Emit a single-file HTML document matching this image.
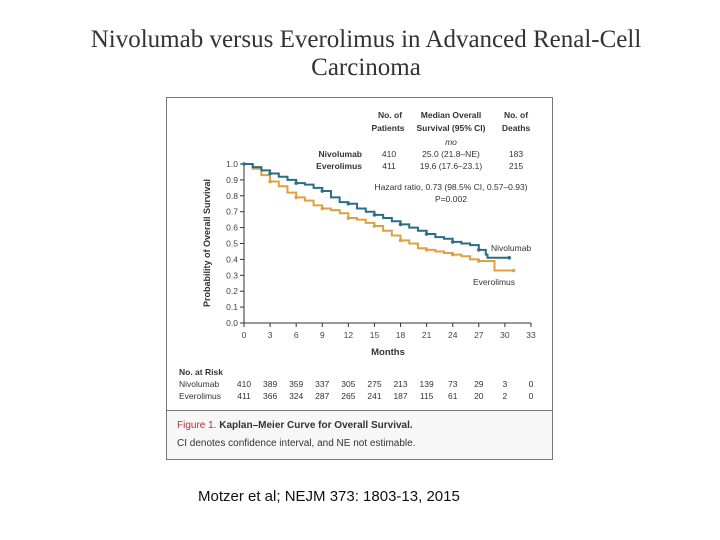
<!DOCTYPE html>
<html><head><meta charset="utf-8"><style>
body{margin:0;width:720px;height:540px;background:#fff;position:relative;overflow:hidden;font-family:"Liberation Sans",sans-serif}
.t{position:absolute;white-space:nowrap}
</style></head><body>
<div class="t" style="left:0;width:732px;top:26px;text-align:center;font-family:'Liberation Serif',serif;font-size:25px;line-height:28px;color:#333">Nivolumab versus Everolimus in Advanced Renal-Cell<br>Carcinoma</div>
<svg width="720" height="540" style="position:absolute;left:0;top:0">
<rect x="166.5" y="97.5" width="386" height="362" fill="#fff" stroke="#777"/>
<rect x="167" y="410" width="385" height="49" fill="#f7f7f7"/>
<line x1="167" y1="410.5" x2="552" y2="410.5" stroke="#777"/>
<g id="axes" font-size="8.5" fill="#444"></g>
<g id="curves"></g>
<g font-size="8.5" fill="#333">
<text x="390" y="118" text-anchor="middle" font-weight="bold">No. of</text>
<text x="388" y="131" text-anchor="middle" font-weight="bold">Patients</text>
<text x="451" y="118" text-anchor="middle" font-weight="bold">Median Overall</text>
<text x="451" y="131" text-anchor="middle" font-weight="bold">Survival (95% CI)</text>
<text x="451" y="145" text-anchor="middle" font-style="italic">mo</text>
<text x="516" y="118" text-anchor="middle" font-weight="bold">No. of</text>
<text x="516" y="131" text-anchor="middle" font-weight="bold">Deaths</text>
<text x="362" y="157" text-anchor="end" font-weight="bold">Nivolumab</text>
<text x="362" y="169" text-anchor="end" font-weight="bold">Everolimus</text>
<text x="389" y="157" text-anchor="middle">410</text><text x="389" y="169" text-anchor="middle">411</text>
<text x="451" y="157" text-anchor="middle">25.0 (21.8–NE)</text><text x="451" y="169" text-anchor="middle">19.6 (17.6–23.1)</text>
<text x="516" y="157" text-anchor="middle">183</text><text x="516" y="169" text-anchor="middle">215</text>
<text x="451" y="190" text-anchor="middle">Hazard ratio, 0.73 (98.5% CI, 0.57–0.93)</text>
<text x="451" y="202" text-anchor="middle">P=0.002</text>
<text x="491" y="251">Nivolumab</text>
<text x="473" y="285">Everolimus</text>
<text x="388" y="355" text-anchor="middle" font-weight="bold" font-size="9.5">Months</text>
<text x="210" y="243" text-anchor="middle" font-weight="bold" font-size="9" transform="rotate(-90 210 243)">Probability of Overall Survival</text>
<text x="179" y="375" font-weight="bold">No. at Risk</text>
<text x="179" y="387">Nivolumab</text><text x="179" y="399">Everolimus</text>
</g>
<g id="risk" font-size="8.5" fill="#333"></g>
<text x="177" y="428" font-size="10" fill="#b03040">Figure 1. <tspan fill="#333" font-weight="bold">Kaplan–Meier Curve for Overall Survival.</tspan></text>
<text x="177" y="446" font-size="10" fill="#333">CI denotes confidence interval, and NE not estimable.</text>
</svg>
<div class="t" style="left:198px;top:488px;font-size:15px;color:#111">Motzer et al; NEJM 373: 1803-13, 2015</div>
<script>
const xTicks=[0,3,6,9,12,15,18,21,24,27,30,33];
const yTicks=[0,0.1,0.2,0.3,0.4,0.5,0.6,0.7,0.8,0.9,1.0];
const nivoMonths=[0,1,2,3,4,5,6,7,8,9,10,11,12,13,14,15,16,17,18,19,20,21,22,23,24,25,26,27,27.8,28,30.5];
const nivoSurv=[1,0.98,0.96,0.94,0.92,0.9,0.88,0.87,0.85,0.83,0.79,0.76,0.75,0.72,0.7,0.68,0.66,0.64,0.62,0.6,0.58,0.56,0.54,0.53,0.51,0.5,0.49,0.46,0.43,0.41,0.41];
const everoMonths=[0,1,2,3,4,5,6,7,8,9,10,11,12,13,14,15,16,17,18,19,20,21,22,23,24,25,26,27,28.5,28.8,31];
const everoSurv=[1,0.97,0.93,0.89,0.86,0.82,0.79,0.77,0.74,0.72,0.71,0.69,0.66,0.65,0.63,0.61,0.58,0.55,0.52,0.5,0.47,0.46,0.45,0.44,0.43,0.42,0.4,0.39,0.39,0.33,0.33];
const riskNivo=[410,389,359,337,305,275,213,139,73,29,3,0];
const riskEvero=[411,366,324,287,265,241,187,115,61,20,2,0];
const NS="http://www.w3.org/2000/svg";
const X=m=>244+m*(287/33), Y=p=>323-p*159;
function mk(t,a,p){const e=document.createElementNS(NS,t);for(const k in a)e.setAttribute(k,a[k]);p.appendChild(e);return e;}
const ax=document.getElementById('axes');
let e=mk('line',{x1:244,y1:Y(0),x2:531,y2:Y(0),stroke:'#333'},ax);


e=mk('line',{x1:244,y1:Y(0),x2:244,y2:Y(1),stroke:'#333'},ax);


xTicks.forEach(v=>{mk('line',{x1:X(v),x2:X(v),y1:Y(0),y2:Y(0)+4,stroke:'#333'},ax);const t=mk('text',{x:X(v),y:Y(0)+15,'text-anchor':'middle'},ax);t.textContent=v;

});
yTicks.forEach(v=>{mk('line',{x1:240,x2:244,y1:Y(v),y2:Y(v),stroke:'#333'},ax);const t=mk('text',{x:238,y:Y(v)+3,'text-anchor':'end'},ax);t.textContent=v.toFixed(1);

});
const cv=document.getElementById('curves');
function curve(ms,ss,col,name,w){let d='M'+X(ms[0])+','+Y(ss[0]);for(let i=1;i<ms.length;i++){d+='H'+X(ms[i])+'V'+Y(ss[i]);}
const p=mk('path',{d:d,fill:'none',stroke:col,'stroke-width':w},cv);


for(let i=0;i<ms.length;i+=3){mk('circle',{cx:X(ms[i]),cy:Y(ss[i]),r:1.8,fill:col},cv);}}
curve(everoMonths,everoSurv,'#e0a040','everolimus-curve',2);
curve(nivoMonths,nivoSurv,'#2a6e85','nivolumab-curve',2);
const rk=document.getElementById('risk');
xTicks.forEach((v,i)=>{let t=mk('text',{x:X(v),y:387,'text-anchor':'middle'},rk);t.textContent=riskNivo[i];


t=mk('text',{x:X(v),y:399,'text-anchor':'middle'},rk);t.textContent=riskEvero[i];

});
</script>
</body></html>
